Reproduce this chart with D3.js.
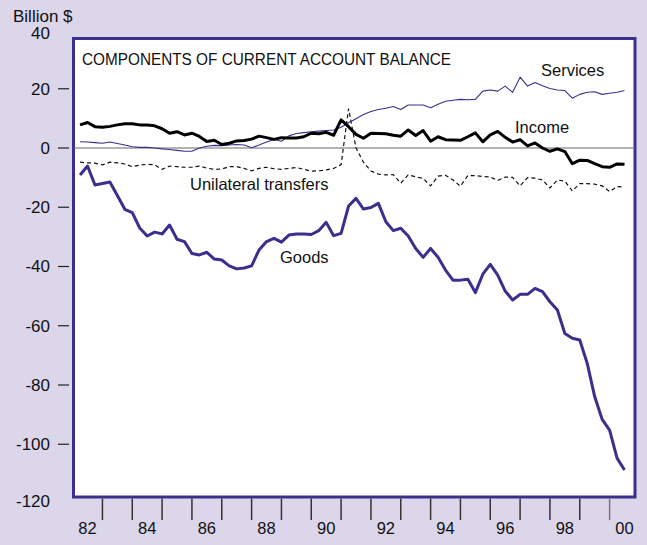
<!DOCTYPE html>
<html>
<head>
<meta charset="utf-8">
<script src="https://cdn.jsdelivr.net/npm/d3@7"></script>
<style>
  html, body { margin: 0; padding: 0; background: #dcd6ea; }
  svg { display: block; }
  text { font-family: "Liberation Sans", Arial, Helvetica, sans-serif; fill: #111; }
</style>
</head>
<body>
<svg id="chart" width="647" height="545"></svg>
<script>
// Quarterly data, 1982Q1 .. 2000Q2 (billion $)
const startYear = 1982;
const goods = [-9.1, -6.1, -12.5, -12.0, -11.5, -16.0, -20.7, -21.8, -27.0, -29.7,
  -28.4, -29.0, -26.0, -30.8, -31.6, -35.6, -36.1, -35.2, -37.5, -37.8,
  -39.8, -40.8, -40.5, -39.8, -34.4, -31.6, -30.5, -31.8, -29.4, -29.0,
  -29.0, -29.2, -27.9, -25.1, -29.6, -28.8, -19.6, -17.0, -20.6, -20.1,
  -18.7, -24.9, -27.9, -27.1, -29.7, -33.9, -36.9, -33.9, -36.9, -41.2,
  -44.6, -44.6, -44.3, -48.8, -42.6, -39.3, -42.9, -48.3, -51.3, -49.4,
  -49.4, -47.4, -48.5, -51.9, -54.7, -62.6, -64.2, -64.8, -72.7, -83.9,
  -91.6, -95.2, -104.7, -108.7];
const services = [2.1, 2.0, 1.8, 1.6, 2.0, 1.5, 1.0, 0.4, 0.2, 0.2,
  0.0, -0.3, -0.5, -0.8, -1.1, -1.1, 0.0, 0.6, 0.9, 0.8,
  1.0, 1.2, 1.0, 0.1, 1.0, 2.0, 2.9, 2.3, 4.1, 4.9,
  5.2, 5.5, 5.7, 5.9, 6.1, 7.0, 8.5, 9.9, 11.3, 12.3,
  13.0, 13.4, 14.0, 13.0, 14.5, 14.5, 14.5, 13.6, 14.8, 15.8,
  16.1, 16.4, 16.3, 16.4, 19.2, 19.6, 19.2, 20.9, 18.8, 23.9,
  20.9, 22.1, 21.0, 20.1, 19.6, 19.4, 16.8, 18.1, 18.8, 19.0,
  18.1, 18.5, 18.8, 19.4];
const income = [7.8, 8.6, 7.2, 7.0, 7.3, 7.8, 8.2, 8.2, 7.8, 7.8,
  7.5, 6.5, 5.0, 5.5, 4.4, 5.0, 3.9, 2.2, 2.6, 1.2,
  1.6, 2.4, 2.5, 3.0, 4.0, 3.5, 2.9, 3.5, 3.4, 3.4,
  3.8, 5.0, 4.8, 5.3, 4.3, 9.5, 7.2, 4.6, 3.3, 5.0,
  4.9, 4.8, 4.3, 4.0, 6.1, 4.2, 5.9, 2.3, 3.8, 2.8,
  2.7, 2.6, 3.8, 5.1, 2.1, 4.4, 5.6, 3.6, 2.0, 2.8,
  0.7, 1.7, 0.0, -1.1, -0.3, -1.2, -5.3, -4.1, -4.2, -5.3,
  -6.3, -6.5, -5.4, -5.5];
const transfers = [-4.8, -5.0, -5.1, -5.7, -4.8, -5.0, -5.4, -6.3, -5.8, -5.5,
  -5.7, -7.2, -6.1, -6.3, -6.5, -6.5, -6.1, -6.8, -7.2, -7.1,
  -6.3, -6.3, -6.9, -7.7, -6.9, -6.5, -7.0, -7.2, -6.9, -6.6,
  -7.2, -7.8, -7.7, -7.4, -6.9, -5.6, 13.3, 0.0, -4.8, -7.8,
  -8.8, -9.1, -9.0, -11.9, -9.1, -9.7, -10.3, -12.8, -9.5, -9.2,
  -10.8, -12.9, -9.3, -9.3, -9.6, -9.8, -11.0, -9.8, -9.9, -12.8,
  -10.0, -10.2, -10.8, -13.5, -10.8, -11.2, -14.5, -12.0, -12.0, -12.2,
  -12.8, -14.7, -13.0, -13.2];
const yTicks = [20, 0, -20, -40, -60, -80, -100];
const yLabels = [40, 20, 0, -20, -40, -60, -80, -100, -120];
const tickYears = d3.range(1983, 2001);
const labelYears = [1982, 1984, 1986, 1988, 1990, 1992, 1994, 1996, 1998, 2000];
const title = "COMPONENTS OF CURRENT ACCOUNT BALANCE";

const svg = d3.select("#chart");
const frame = {left: 73.5, right: 635, top: 38.5, bottom: 497};

const x = d3.scaleLinear().domain([1982, 2000]).range([72.6, 609.6]);
const y = d3.scaleLinear().domain([0, -100]).range([148, 444.25]);

const t = i => startYear + (i + 1) / 4;

// plot frame
svg.append("rect")
  .attr("x", frame.left).attr("y", frame.top)
  .attr("width", frame.right - frame.left).attr("height", frame.bottom - frame.top)
  .attr("fill", "#ffffff").attr("stroke", "#3a2f8c").attr("stroke-width", 3);

// zero line
svg.append("line")
  .attr("x1", frame.left).attr("x2", frame.right)
  .attr("y1", y(0)).attr("y2", y(0))
  .attr("stroke", "#6b6b6b").attr("stroke-width", 1.2);

// y ticks & labels
svg.append("g").selectAll("line").data(yTicks).join("line")
  .attr("x1", 58).attr("x2", 69)
  .attr("y1", d => y(d)).attr("y2", d => y(d))
  .attr("stroke", "#222").attr("stroke-width", 1.2);
svg.append("g").selectAll("text").data(yLabels).join("text")
  .attr("x", 50)
  .attr("y", d => d === 40 ? 33 : (d === -120 ? 501.5 : y(d)))
  .attr("dy", "0.35em")
  .attr("text-anchor", "end")
  .attr("font-size", 17)
  .text(d => d);

svg.append("text").attr("x", 13).attr("y", 21.5).attr("font-size", 17).text("Billion $");

// x ticks & labels
svg.append("g").selectAll("line").data(tickYears).join("line")
  .attr("x1", d => x(d)).attr("x2", d => x(d))
  .attr("y1", frame.bottom + 1.5).attr("y2", 520)
  .attr("stroke", d => d === 2000 ? "#777" : "#333").attr("stroke-width", 1.5);
svg.append("g").selectAll("text").data(labelYears).join("text")
  .attr("x", d => x(d + 0.5))
  .attr("y", 534)
  .attr("text-anchor", "middle")
  .attr("font-size", 16.5)
  .text(d => String(d).slice(2));

// lines
const line = d3.line().x((d, i) => x(t(i))).y(d => y(d));

svg.append("path").datum(transfers).attr("d", line)
  .attr("fill", "none").attr("stroke", "#111").attr("stroke-width", 1.2)
  .attr("stroke-dasharray", "4,3");
svg.append("path").datum(services).attr("d", line)
  .attr("fill", "none").attr("stroke", "#3a2f8c").attr("stroke-width", 1.1)
  .attr("stroke-linejoin", "round");
svg.append("path").datum(income).attr("d", line)
  .attr("fill", "none").attr("stroke", "#000").attr("stroke-width", 3)
  .attr("stroke-linejoin", "round");
svg.append("path").datum(goods).attr("d", line)
  .attr("fill", "none").attr("stroke", "#3a2f8c").attr("stroke-width", 3)
  .attr("stroke-linejoin", "round");

// labels
svg.append("text").attr("x", 82).attr("y", 65).attr("font-size", 16)
  .attr("textLength", 369).attr("lengthAdjust", "spacingAndGlyphs").text(title);
svg.append("text").attr("x", 541).attr("y", 76).attr("font-size", 16.5).text("Services");
svg.append("text").attr("x", 515).attr("y", 133).attr("font-size", 16.5).text("Income");
svg.append("text").attr("x", 190).attr("y", 190).attr("font-size", 16.5).text("Unilateral transfers");
svg.append("text").attr("x", 280).attr("y", 263).attr("font-size", 16.5).text("Goods");
</script>
</body>
</html>
